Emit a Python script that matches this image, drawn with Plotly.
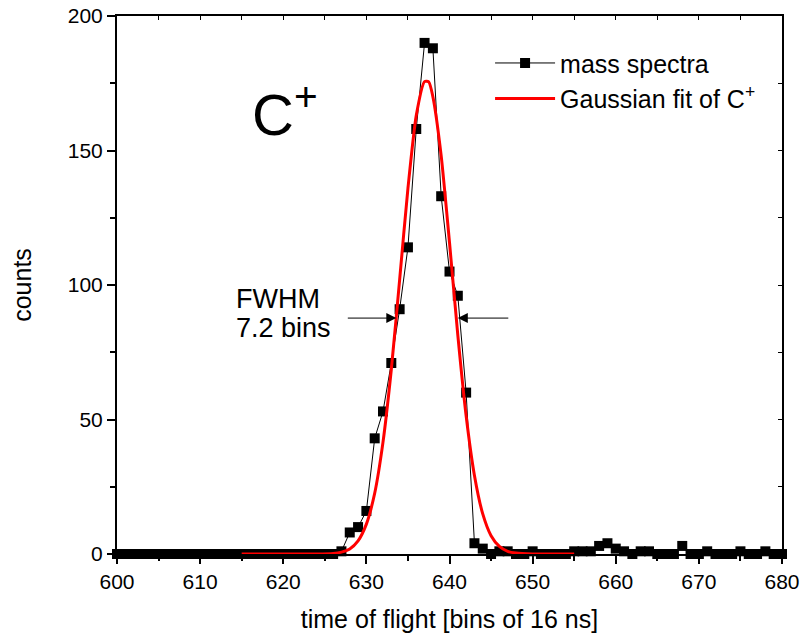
import plotly.graph_objects as go

# ---- data ----
tof_bins = list(range(600, 681))
counts = (
    [0] * 27 +                       # 600-626
    [1, 8, 10, 16, 43, 53, 71, 91, 114, 158, 190, 188, 133, 105, 96, 60, 4, 2,  # 627-644
     0, 1, 1, 0, 0, 1, 0, 0, 0, 0, 1, 1, 1, 3, 4, 2, 1, 0, 1, 1, 0, 0, 0, 3,       # 645-668
     0, 0, 1, 0, 0, 0, 1, 0, 0, 1, 0, 0]                                           # 669-680
)

fit_x = [615, 620, 624, 626, 627, 628, 629, 630, 631, 632, 633, 634, 635, 636, 637,
         637.5, 638, 639, 640, 641, 642, 643, 644, 645, 646, 647, 648, 650, 655]
fit_y = [0, 0, 0.02, 0.2, 0.7, 1.9, 4.9, 11.1, 22.6, 41.6, 68.6, 101.9, 135.9, 163.0, 175.6,
         175.5, 170.0, 148.0, 115.8, 81.4, 51.4, 29.2, 14.9, 6.8, 2.8, 1.0, 0.35, 0.03, 0]

x_ticks = [600, 610, 620, 630, 640, 650, 660, 670, 680]
y_ticks = [0, 50, 100, 150, 200]

FONT = "Liberation Sans, Arial, sans-serif"

fig = go.Figure()
fig.add_trace(go.Scatter(
    x=tof_bins, y=counts, mode="lines+markers", name="mass spectra",
    line=dict(color="black", width=1),
    marker=dict(symbol="square", size=10, color="black"),
    cliponaxis=False,
))
fig.add_trace(go.Scatter(
    x=fit_x, y=fit_y, mode="lines", name="Gaussian fit of C<sup>+</sup>",
    line=dict(color="#ff0000", width=3, shape="spline", smoothing=0.6),
))
# invisible trace to carry mirrored axes
fig.add_trace(go.Scatter(x=[600], y=[0], xaxis="x2", yaxis="y2", mode="markers",
                         marker=dict(opacity=0), showlegend=False, hoverinfo="skip"))

axis_common = dict(showgrid=False, zeroline=False, linecolor="black", linewidth=2,
                   tickcolor="black", tickwidth=1.5, automargin=False, mirror=True,
                   ticklabeloverflow="allow",
                   tickfont=dict(family=FONT, size=21, color="black"))

fig.update_layout(
    width=802, height=639,
    margin=dict(l=117, r=20, t=16, b=85, autoexpand=False),
    plot_bgcolor="white", paper_bgcolor="white",
    font=dict(family=FONT, color="black"),
    showlegend=True,
    legend=dict(x=0.561, y=0.955, xanchor="left", yanchor="top",
                bgcolor="rgba(0,0,0,0)", font=dict(family=FONT, size=25, color="black"),
                tracegroupgap=0, itemwidth=60),
    xaxis=dict(range=[600, 680], tickvals=x_ticks, ticks="outside", ticklen=8,
               minor=dict(dtick=5, ticks="outside", ticklen=5, tickcolor="black", tickwidth=1.5),
               title=dict(text="time of flight [bins of 16 ns]",
                          font=dict(family=FONT, size=25, color="black"), standoff=18),
               showline=True, **axis_common),
    yaxis=dict(range=[0, 200], tickvals=y_ticks, ticks="outside", ticklen=8,
               minor=dict(dtick=25, ticks="outside", ticklen=5, tickcolor="black", tickwidth=1.5),
               title=dict(text="counts", font=dict(family=FONT, size=25, color="black"), standoff=29),
               showline=True, **axis_common),
    xaxis2=dict(range=[600, 680], overlaying="x", side="top", showticklabels=False,
                tickvals=[600 + 5 * i for i in range(17)], ticks="inside", ticklen=4,
                showline=True, showgrid=False, zeroline=False, linecolor="black",
                linewidth=2, tickcolor="black", tickwidth=1, automargin=False),
    yaxis2=dict(range=[0, 200], overlaying="y", side="right", showticklabels=False,
                tickvals=[25 * i for i in range(9)], ticks="inside", ticklen=4,
                showline=True, showgrid=False, zeroline=False, linecolor="black",
                linewidth=2, tickcolor="black", tickwidth=1, automargin=False),
)

fig.add_annotation(x=250, y=111, xref="paper", yref="paper", text="C<sup>+</sup>", showarrow=False,
                   xanchor="left", yanchor="middle",
                   font=dict(family=FONT, size=58, color="black"))
fig.add_annotation(x=234, y=299, xref="paper", yref="paper", xanchor="left", yanchor="middle",
                   text="FWHM", showarrow=False,
                   font=dict(family=FONT, size=27, color="black"))
fig.add_annotation(x=234, y=328, xref="paper", yref="paper", xanchor="left", yanchor="middle",
                   text="7.2 bins", showarrow=False,
                   font=dict(family=FONT, size=27, color="black"))
fig.add_annotation(x=633.6, y=87.7, xref="x", yref="y", ax=-50, ay=0, text="",
                   showarrow=True, arrowhead=2, arrowsize=2, arrowwidth=1, arrowcolor="black")
fig.add_annotation(x=641.0, y=87.7, xref="x", yref="y", ax=52, ay=0, text="",
                   showarrow=True, arrowhead=2, arrowsize=2, arrowwidth=1, arrowcolor="black")

# convert window pixel positions of free texts to paper coordinates
L, R, T, B = 117, 782, 16, 554
for ann in fig.layout.annotations:
    if ann.xref == "paper":
        ann.x = (ann.x - L) / (R - L)
        ann.y = (B - ann.y) / (B - T)

fig.write_html("out.html", config={"displayModeBar": False},
               post_script="document.body.style.margin='0';document.body.style.overflow='hidden';")
